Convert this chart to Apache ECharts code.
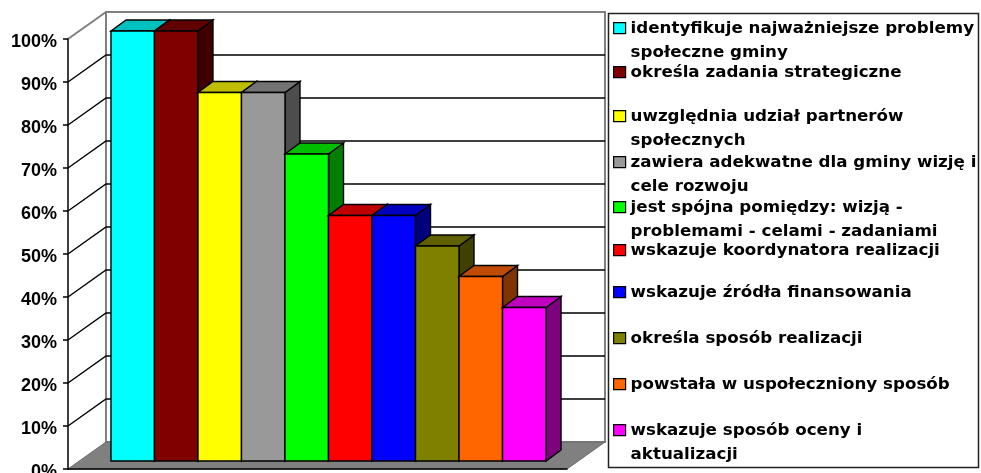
<!DOCTYPE html>
<html><head><meta charset="utf-8">
<style>html,body{margin:0;padding:0;background:#fff}#c{width:981px;height:473px}</style>
<script src="https://cdn.jsdelivr.net/npm/echarts@6/dist/echarts.min.js"></script>
</head><body><div id="c"></div>
<script>
const names = [
 "identyfikuje najważniejsze problemy\nspołeczne gminy",
 "określa zadania strategiczne",
 "uwzględnia udział partnerów\nspołecznych",
 "zawiera adekwatne dla gminy wizję i\ncele rozwoju",
 "jest spójna pomiędzy: wizją -\nproblemami - celami - zadaniami",
 "wskazuje koordynatora realizacji",
 "wskazuje źródła finansowania",
 "określa sposób realizacji",
 "powstała w uspołeczniony sposób",
 "wskazuje sposób oceny i\naktualizacji"
];
const values = [100, 100, 85.7, 85.7, 71.4, 57.1, 57.1, 50, 42.9, 35.7];
const fronts = ["#00FFFF","#800000","#FFFF00","#999999","#00FF00","#FF0000","#0000FF","#808000","#FF6600","#FF00FF"];
const tops   = ["#00BFBF","#600000","#BFBF00","#737373","#00BF00","#BF0000","#0000BF","#606000","#BF4C00","#BF00BF"];
const sides  = ["#007F7F","#400000","#7F7F00","#4D4D4D","#007F00","#7F0000","#00007F","#404000","#7F3300","#7F007F"];
const ticks = [0,10,20,30,40,50,60,70,80,90,100];
const legendCentres = [28,72,116,162,207,250,292,338,384,430];

const wall = {dx:38, dy:-27}, barPlane = {dx:11, dy:-8}, depth = {dx:15, dy:-11};
const gap = 1.47;
const n = values.length;

function shift(p,o){return [p[0]+o.dx,p[1]+o.dy];}
function poly(points,fill,stroke,lw){
  return {type:'polygon',shape:{points},style:{fill,stroke,lineWidth:lw||1}};
}
function frameItem(params,api){
  const a=api.coord([0,0]), b=api.coord([0,100]), band=api.size([1,0])[0];
  const fl=[a[0]-band/2,a[1]], fr=[a[0]+band/2,a[1]], tl=[fl[0],b[1]], tr=[fr[0],b[1]];
  return {type:'group',children:[
    poly([shift(fl,wall),shift(tl,wall),shift(tr,wall),shift(fr,wall)],'#fff','#808080',2),
    {type:'polyline',shape:{points:[tl,shift(tl,wall)]},style:{fill:'none',stroke:'#808080',lineWidth:2}},
    poly([fl,shift(fl,wall),shift(fr,wall),fr],'#808080','#6a6a6a',1)
  ]};
}
function tickItem(params,api){
  const v=api.value(1);
  if(v===0||v===100) return {type:'group',children:[]};
  const a=api.coord([0,v]), band=api.size([1,0])[0];
  const l=[a[0]-band/2,a[1]];
  const back=shift(l,wall);
  return {type:'polyline',shape:{points:[l,back,[back[0]+band,back[1]]]},style:{fill:'none',stroke:'#000',lineWidth:1.4}};
}
function barItem(i){
  return function(params,api){
    const v=api.value(1);
    const c=api.coord([0,v]), z=api.coord([0,0]), band=api.size([1,0])[0];
    const w=band/(n+gap);
    const x0=c[0]-band/2+w*(gap/2+i);
    const A=shift([x0,z[1]],barPlane),B=shift([x0+w,z[1]],barPlane),
          C=shift([x0+w,c[1]],barPlane),D=shift([x0,c[1]],barPlane);
    return {type:'group',children:[
      poly([B,C,shift(C,depth),shift(B,depth)],sides[i],'#000',1.4),
      poly([D,C,shift(C,depth),shift(D,depth)],tops[i],'#000',1.4),
      poly([A,B,C,D],fronts[i],'#000',1.4)
    ]};
  };
}
const font={fontFamily:'"Liberation Sans",Arial,sans-serif',fontWeight:'bold',color:'#000'};
const option={
  animation:false,
  backgroundColor:'#fff',
  grid:{left:68,top:39,width:499,height:430,outerBoundsMode:'none'},
  xAxis:{type:'category',data:['c'],z:10,axisLine:{lineStyle:{color:'#000',width:1.5}},axisTick:{show:false},axisLabel:{show:false},splitLine:{show:false}},
  yAxis:{type:'value',min:0,max:100,interval:10,z:10,
    axisLine:{show:true,lineStyle:{color:'#000',width:1.5}},
    axisTick:{show:true,length:5,lineStyle:{color:'#000',width:1.5}},
    axisLabel:{formatter:'{value}%',margin:11,fontSize:18,hideOverlap:false,verticalAlign:'top',lineHeight:6,...font},
    splitLine:{show:false}},
  graphic:[{type:'rect',shape:{x:608.5,y:13.5,width:370,height:454},style:{fill:'#fff',stroke:'#222',lineWidth:1.5}}],
  legend:names.map((nm,i)=>({
    data:[nm],left:613,top:legendCentres[i]-12,orient:'vertical',padding:0,
    selectedMode:false,itemWidth:12,itemHeight:48,itemGap:0,
    icon:'path://M0 0M12 48M0 6h12v11h-12z',
    itemStyle:{borderColor:'#000',borderWidth:1.2},
    formatter:s=>s.includes('\n')?s:s+'\n ',
    textStyle:{...font,fontFamily:'"DejaVu Sans",sans-serif',fontSize:16.7,lineHeight:24}
  })),
  series:[
    {type:'custom',name:'wall',z:1,silent:true,data:[[0,0]],renderItem:frameItem},
    {type:'custom',name:'ticks',z:1.5,silent:true,data:ticks.map(t=>[0,t]),renderItem:tickItem},
    ...names.map((nm,i)=>({type:'custom',name:nm,z:2,silent:true,
      itemStyle:{color:fronts[i]},data:[[0,values[i]]],renderItem:barItem(i)}))
  ]
};
echarts.init(document.getElementById('c'),null,{renderer:'canvas'}).setOption(option);
</script></body></html>
